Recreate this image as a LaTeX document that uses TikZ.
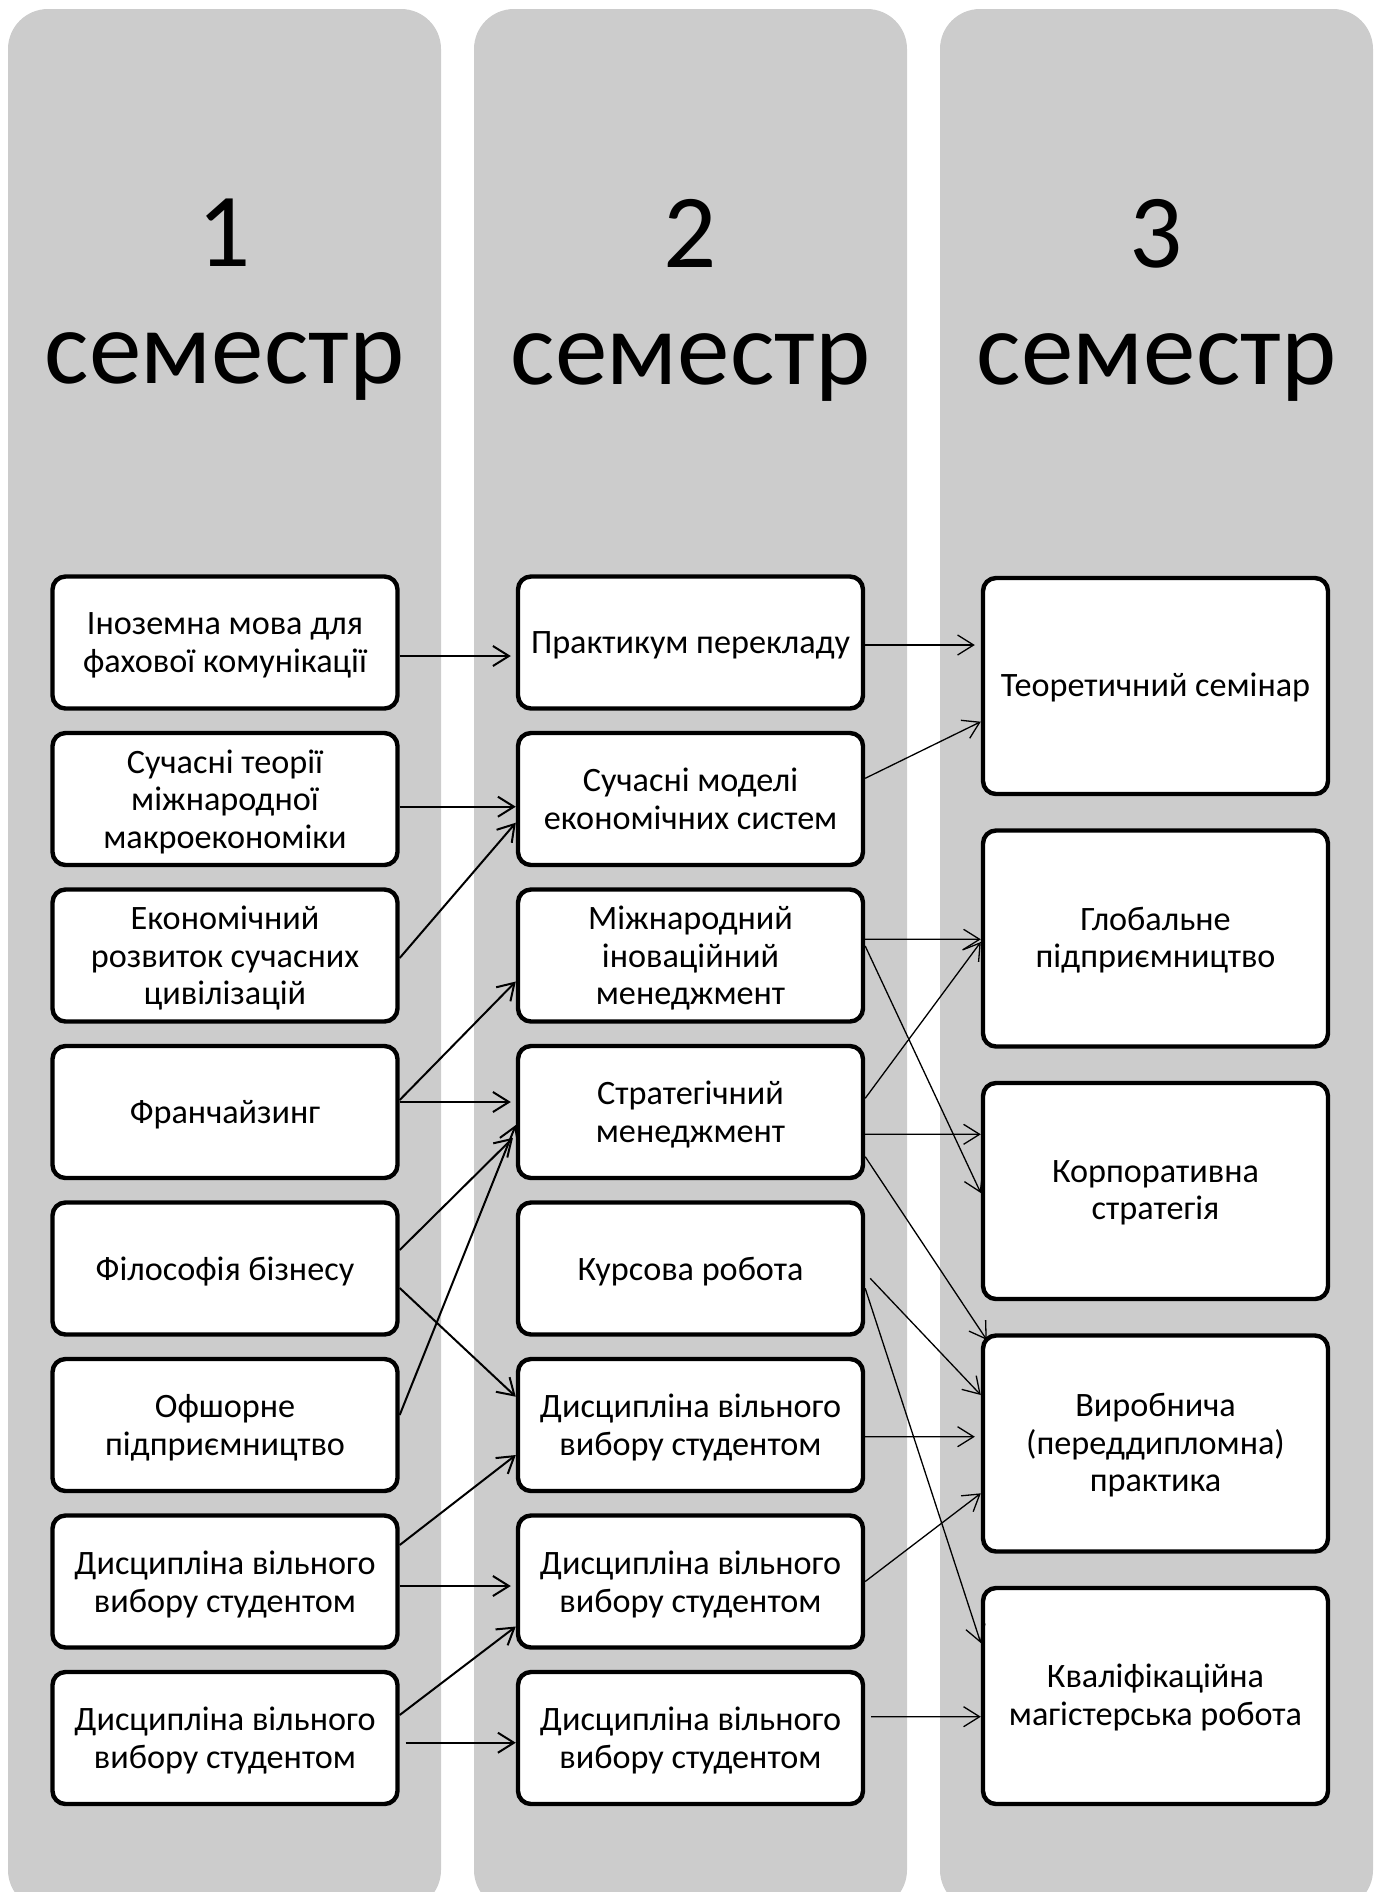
\documentclass[tikz,border=0pt]{standalone}
\usepackage{fontspec}
\setmainfont{Carlito}
\usetikzlibrary{arrows.meta}

\begin{document}
\begin{tikzpicture}[>={Straight Barb[length=8pt,width=10pt]}]
\useasboundingbox (0,0) rectangle (689.5pt,-946pt);
\begin{scope}

\tikzstyle{semnode} = [minimum width=216.5pt,minimum height=950.5pt,fill=black!20,rounded corners=20pt,inner sep=0pt,outer sep=0pt];
\tikzstyle{titlenode} = [align=center,inner sep=0pt,font=\fontsize{52.5}{58.5}\selectfont];
\tikzstyle{coursenode} = [minimum width=172.5pt,minimum height=66pt,draw,line width=2.2pt,fill=white,rounded corners=6.5pt,align=center,inner sep=2pt,font=\fontsize{17.1}{18.8}\selectfont,text depth=-1.5pt];
\tikzstyle{finalnode} = [coursenode,minimum height=108pt,text depth=1pt];
\tikzstyle{linkA} = [->,line width=1pt];
\tikzstyle{linkB} = [->,line width=0.65pt];

\node [semnode,anchor=north west] (sem1) at (4pt,-4.5pt) {};
\node [semnode,anchor=north west] (sem2) at ([xshift=16.5pt]sem1.north east) {};
\node [semnode,anchor=north west] (sem3) at ([xshift=16.5pt]sem2.north east) {};

\node [titlenode] (t1) at ([yshift=-145.5pt]sem1.north) {1\\семестр};
\node [titlenode] (t2) at ([yshift=-145.5pt]sem2.north) {2\\семестр};
\node [titlenode] (t3) at ([yshift=-145.5pt]sem3.north) {3\\семестр};

\node [coursenode,anchor=north west] (a1) at (25.15pt,-287.15pt) {Іноземна мова для\\фахової комунікації};
\node [coursenode,anchor=north] (a2) at ([yshift=-10.05pt]a1.south) {Сучасні теорії\\міжнародної\\макроекономіки};
\node [coursenode,anchor=north] (a3) at ([yshift=-10.05pt]a2.south) {Економічний\\розвиток сучасних\\цивілізацій};
\node [coursenode,anchor=north] (a4) at ([yshift=-10.05pt]a3.south) {Франчайзинг};
\node [coursenode,anchor=north] (a5) at ([yshift=-10.05pt]a4.south) {Філософія бізнесу};
\node [coursenode,anchor=north] (a6) at ([yshift=-10.05pt]a5.south) {Офшорне\\підприємництво};
\node [coursenode,anchor=north] (a7) at ([yshift=-10.05pt]a6.south) {Дисципліна вільного\\вибору студентом};
\node [coursenode,anchor=north] (a8) at ([yshift=-10.05pt]a7.south) {Дисципліна вільного\\вибору студентом};

\node [coursenode,anchor=north west] (b1) at ([xshift=232.75pt]a1.north west) {Практикум перекладу};
\node [coursenode,anchor=north] (b2) at ([yshift=-10.05pt]b1.south) {Сучасні моделі\\економічних систем};
\node [coursenode,anchor=north] (b3) at ([yshift=-10.05pt]b2.south) {Міжнародний\\іноваційний\\менеджмент};
\node [coursenode,anchor=north] (b4) at ([yshift=-10.05pt]b3.south) {Стратегічний\\менеджмент};
\node [coursenode,anchor=north] (b5) at ([yshift=-10.05pt]b4.south) {Курсова робота};
\node [coursenode,anchor=north] (b6) at ([yshift=-10.05pt]b5.south) {Дисципліна вільного\\вибору студентом};
\node [coursenode,anchor=north] (b7) at ([yshift=-10.05pt]b6.south) {Дисципліна вільного\\вибору студентом};
\node [coursenode,anchor=north] (b8) at ([yshift=-10.05pt]b7.south) {Дисципліна вільного\\вибору студентом};

\node [finalnode,anchor=north west] (c1) at ([xshift=465.25pt,yshift=-0.75pt]a1.north west) {Теоретичний семінар};
\node [finalnode,anchor=north] (c2) at ([yshift=-16.05pt]c1.south) {Глобальне\\підприємництво};
\node [finalnode,anchor=north] (c3) at ([yshift=-16.05pt]c2.south) {Корпоративна\\стратегія};
\node [finalnode,anchor=north] (c4) at ([yshift=-16.05pt]c3.south) {Виробнича\\(переддипломна)\\практика};
\node [finalnode,anchor=north] (c5) at ([yshift=-16.05pt]c4.south) {Кваліфікаційна\\магістерська робота};

\draw [linkA,shorten >=2.5pt] ([yshift=-6.75pt]a1.east) -- ([yshift=-6.75pt]b1.west);
\draw [linkA] ([yshift=-3.85pt]a2.east) -- ([yshift=-3.85pt]b2.west);
\draw [linkA] ([yshift=-1.25pt]a3.east) -- ([yshift=-11.85pt]b2.west);
\draw [linkA] ([yshift=6pt]a4.east) -- ([yshift=-13pt]b3.west);
\draw [linkA,shorten >=2.5pt] ([yshift=5pt]a4.east) -- ([yshift=5pt]b4.west);
\draw [linkA,shorten >=2pt] ([yshift=9.25pt]a5.east) -- ([yshift=-11.5pt]b4.west);
\draw [linkA] ([yshift=-9.75pt]a5.east) -- ([yshift=14.15pt]b6.west);
\draw [linkA] ([yshift=5pt]a6.east) -- ([yshift=-6.5pt]b4.west);
\draw [linkA] ([yshift=18.25pt]a7.east) -- ([yshift=-15pt]b6.west);
\draw [linkA,shorten >=2.5pt] ([yshift=-2.25pt]a7.east) -- ([yshift=-2.25pt]b7.west);
\draw [linkA] ([yshift=11.5pt]a8.east) -- ([yshift=-22.5pt]b7.west);
\draw [linkA,shorten <=3pt] ([yshift=-2.35pt]a8.east) -- ([yshift=-2.35pt]b8.west);

\draw [linkB,shorten >=3pt] ([yshift=-1.25pt]b1.east) -- ([yshift=20.5pt]c1.west);
\draw [linkB] ([yshift=10.35pt]b2.east) -- ([yshift=-17.85pt]c1.west);
\draw [linkB] ([yshift=8.1pt]b3.east) -- ([yshift=-0.4pt]c2.west);
\draw [linkB] ([yshift=4.75pt]b3.east) -- ([yshift=-1pt]c3.west);
\draw [linkB] ([yshift=6.85pt]b4.east) -- ([yshift=-1.75pt]c2.west);
\draw [linkB] ([yshift=-11.15pt]b4.east) -- ([yshift=28.35pt]c3.west);
\draw [linkB] ([yshift=-22.35pt]b4.east) -- ([xshift=3pt,yshift=-3.3pt]c4.north west);
\draw [linkB] ([xshift=2.5pt,yshift=-4.9pt]b5.east) -- ([yshift=24.25pt]c4.west);
\draw [linkB] ([yshift=-9.9pt]b5.east) -- ([yshift=26.5pt]c5.west);
\draw [linkB,shorten >=3pt] ([yshift=-5.85pt]b6.east) -- ([yshift=3.4pt]c4.west);
\draw [linkB] (b7.east) -- ([yshift=-24.9pt]c4.west);
\draw [linkB,shorten <=3pt] ([yshift=10.65pt]b8.east) -- ([yshift=-10.35pt]c5.west);

\end{scope}
\end{tikzpicture}
\end{document}
